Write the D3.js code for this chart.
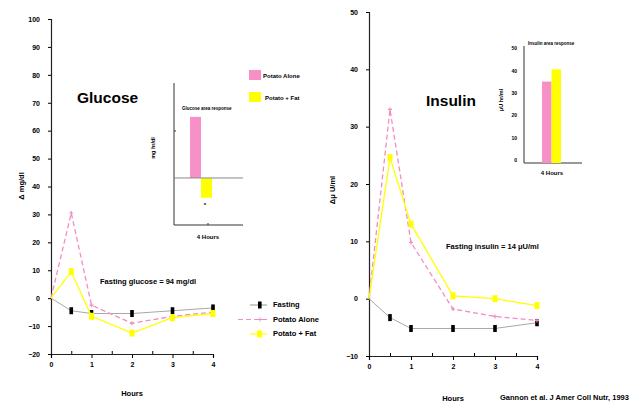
<!DOCTYPE html>
<html>
<head>
<meta charset="utf-8">
<script src="https://d3js.org/d3.v7.min.js"></script>
<style>
  body { margin: 0; background: #fff; }
  text { font-family: "Liberation Sans", Arial, sans-serif; font-weight: bold; fill: #000; }
</style>
</head>
<body>
<div id="chart"></div>
<script>
// Data
const hours = [0, 0.5, 1, 2, 3, 4];
const seriesNames = ["Fasting", "Potato Alone", "Potato + Fat"];

const glucoseFasting = [0, -4.5, -5.5, -5.5, -4.5, -3.5];
const glucosePotato = [0, 30.5, -2.5, -9, -6.5, -5];
const glucosePotatoFat = [0, 9.5, -6.5, -12.5, -7, -5.5];

const insulinFasting = [0, -3.3, -5.2, -5.2, -5.2, -4.2];
const insulinPotato = [0, 33, 9.8, -1.8, -3.1, -3.8];
const insulinPotatoFat = [0, 24.6, 13, 0.5, 0, -1.2];

const glucoseTicks = [-20, -10, 0, 10, 20, 30, 40, 50, 60, 70, 80, 90, 100];
const insulinTicks = [-10, 0, 10, 20, 30, 40, 50];
const hourTicks = [0, 1, 2, 3, 4];

const barNames = ["Potato Alone", "Potato + Fat"];
const glucoseArea = [65, -21];
const insulinArea = [35, 40.5];
const insulinAreaTicks = [0, 10, 20, 30, 40, 50];

const colors = { "Fasting": "#9a9a9a", "Potato Alone": "#f48cc4", "Potato + Fat": "#ffff00" };
const barColors = ["#f890c8", "#ffff00"];

const W = 640, H = 403;
const svg = d3.select("#chart").append("svg")
    .attr("width", W)
    .attr("height", H);

// Draw one time-course panel
function panel(opts) {
    const x = d3.scaleLinear().domain([0, 4]).range([opts.x0, opts.x1]);
    const y = d3.scaleLinear().domain(opts.yDomain).range([opts.y1, opts.y0]);
    const g = svg.append("g");

    // axes
    const yAx = g.append("g")
        .attr("transform", `translate(${opts.x0},0)`)
        .call(d3.axisLeft(y).tickValues(opts.yTicks).tickSize(3).tickPadding(8));
    const xAx = g.append("g")
        .attr("transform", `translate(0,${opts.y1})`)
        .call(d3.axisBottom(x).tickValues(hourTicks).tickSize(4).tickPadding(4).tickFormat(d3.format("d")));
    g.append("g")
        .attr("transform", `translate(0,${opts.y1})`)
        .call(d3.axisBottom(x).tickValues([0.5, 1.5, 2.5, 3.5]).tickSize(-3).tickFormat(""))
        .select(".domain").remove();
    [yAx, xAx].forEach(a => {
        a.select(".domain").attr("stroke", "#222").attr("stroke-width", 1.2);
        a.selectAll("text").style("font-size", "7px").style("font-weight", "bold");
    });

    const line = d3.line().x((d, i) => x(hours[i])).y(d => y(d));

    // series
    const drawSeries = (vals, name) => {
        const c = colors[name];
        g.append("path")
            .datum(vals)
            .attr("fill", "none")
            .attr("stroke", name === "Fasting" ? "#a8a8a8" : c)
            .attr("stroke-width", name === "Fasting" ? 1 : 1.3)
            .attr("stroke-dasharray", name === "Potato Alone" ? "5,3" : null)
            .attr("d", line);
        const pts = g.selectAll(null).data(vals.slice(1)).enter();
        if (name === "Fasting") {
            pts.append("rect")
                .attr("x", (d, i) => x(hours[i + 1]) - 1.8)
                .attr("y", d => y(d) - 3.5)
                .attr("width", 3.6).attr("height", 7)
                .attr("fill", "#000");
        } else if (name === "Potato + Fat") {
            pts.append("rect")
                .attr("x", (d, i) => x(hours[i + 1]) - 2.5)
                .attr("y", d => y(d) - 3.5)
                .attr("width", 5).attr("height", 7)
                .attr("fill", c);
        } else {
            pts.append("path")
                .attr("d", (d, i) => {
                    const px = x(hours[i + 1]), py = y(d);
                    return `M${px - 2},${py}H${px + 2}M${px},${py - 2}V${py + 2}`;
                })
                .attr("stroke", c).attr("stroke-width", 1.2);
        }
    };
    drawSeries(opts.fasting, "Fasting");
    drawSeries(opts.potato, "Potato Alone");
    drawSeries(opts.potatoFat, "Potato + Fat");

    g.append("text")
        .attr("x", (opts.x0 + opts.x1) / 2).attr("y", opts.hoursY)
        .attr("text-anchor", "middle").style("font-size", "7.5px")
        .text("Hours");
    g.append("text")
        .attr("transform", `translate(${opts.labelX},${opts.labelY}) rotate(-90)`)
        .attr("text-anchor", "middle").style("font-size", "7.5px")
        .text(opts.yLabel);
    g.append("text")
        .attr("x", opts.titleX).attr("y", opts.titleY)
        .style("font-size", "15.5px")
        .text(opts.title);
    g.append("text")
        .attr("x", opts.noteX).attr("y", opts.noteY)
        .style("font-size", "7.5px")
        .text(opts.note);
    return { x, y };
}

panel({
    x0: 51, x1: 213, y0: 19, y1: 354,
    yDomain: [-20, 100], yTicks: glucoseTicks,
    fasting: glucoseFasting, potato: glucosePotato, potatoFat: glucosePotatoFat,
    hoursY: 396, labelX: 24, labelY: 186, yLabel: "Δ mg/dl",
    title: "Glucose", titleX: 77, titleY: 103,
    note: "Fasting glucose = 94 mg/dl", noteX: 100, noteY: 284
});

panel({
    x0: 369, x1: 537, y0: 12, y1: 356,
    yDomain: [-10, 50], yTicks: insulinTicks,
    fasting: insulinFasting, potato: insulinPotato, potatoFat: insulinPotatoFat,
    hoursY: 401, labelX: 335, labelY: 190, yLabel: "Δμ U/ml",
    title: "Insulin", titleX: 426, titleY: 106,
    note: "Fasting insulin = 14 μU/ml", noteX: 446, noteY: 249
});

// Glucose inset
(function () {
    const y = d3.scaleLinear().domain([-50, 101]).range([225, 83]);
    const x = d3.scaleBand().domain(barNames).range([190, 212]).padding(0);
    const g = svg.append("g");
    g.append("line").attr("x1", 174).attr("x2", 174).attr("y1", y(101)).attr("y2", y(-50))
        .attr("stroke", "#333");
    g.append("line").attr("x1", 174).attr("x2", 243).attr("y1", y(-50)).attr("y2", y(-50))
        .attr("stroke", "#333");
    g.append("line").attr("x1", 208).attr("x2", 208).attr("y1", y(-50)).attr("y2", y(-50) - 2)
        .attr("stroke", "#333");
    g.append("line").attr("x1", 174).attr("x2", 176).attr("y1", y(50)).attr("y2", y(50))
        .attr("stroke", "#333");
    g.selectAll(null).data(glucoseArea).enter().append("rect")
        .attr("x", (d, i) => x(barNames[i]))
        .attr("width", x.bandwidth())
        .attr("y", d => y(Math.max(0, d)))
        .attr("height", d => Math.abs(y(d) - y(0)))
        .attr("fill", (d, i) => barColors[i]);
    g.append("line").attr("x1", 174).attr("x2", 243).attr("y1", y(0)).attr("y2", y(0))
        .attr("stroke", "#888");
    g.append("text").attr("x", 205).attr("y", 207).attr("text-anchor", "middle")
        .style("font-size", "6px").text("*");
    g.append("text").attr("x", 182).attr("y", 110).style("font-size", "4.5px")
        .text("Glucose area response");
    g.append("text").attr("transform", "translate(155,148) rotate(-90)")
        .attr("text-anchor", "middle").style("font-size", "5.5px").text("mg hr/dl");
    g.append("text").attr("x", 208).attr("y", 239).attr("text-anchor", "middle")
        .style("font-size", "6px").text("4 Hours");

    // legend
    barNames.forEach((n, i) => {
        g.append("rect").attr("x", 249).attr("y", 70 + i * 22).attr("width", 12).attr("height", 10)
            .attr("fill", barColors[i]);
        g.append("text").attr("x", 263 + i * 2).attr("y", 78 + i * 22).style("font-size", "6px").text(n);
    });
})();

// Insulin inset
(function () {
    const y = d3.scaleLinear().domain([0, 50]).range([160, 48]);
    const x = d3.scaleBand().domain(barNames).range([542, 561]).padding(0);
    const g = svg.append("g");
    const ax = g.append("g").attr("transform", "translate(524,0)")
        .call(d3.axisLeft(y).tickValues(insulinAreaTicks).tickSize(0).tickPadding(7));
    ax.select(".domain").remove();
    ax.selectAll("text").style("font-size", "5px");
    g.append("line").attr("x1", 524).attr("x2", 524).attr("y1", 46).attr("y2", 163).attr("stroke", "#333");
    g.append("line").attr("x1", 524).attr("x2", 582).attr("y1", 163).attr("y2", 163).attr("stroke", "#333");
    g.selectAll(null).data(insulinArea).enter().append("rect")
        .attr("x", (d, i) => x(barNames[i]))
        .attr("width", x.bandwidth())
        .attr("y", d => y(d))
        .attr("height", d => 163 - y(d))
        .attr("fill", (d, i) => barColors[i]);
    g.append("text").attr("x", 528).attr("y", 45).style("font-size", "4.5px")
        .text("Insulin area response");
    g.append("text").attr("transform", "translate(503,100) rotate(-90)")
        .attr("text-anchor", "middle").style("font-size", "5.5px").text("μU hr/ml");
    g.append("text").attr("x", 552).attr("y", 175).attr("text-anchor", "middle")
        .style("font-size", "6px").text("4 Hours");
})();

// Bottom-left legend
const lg = svg.append("g");
seriesNames.forEach((n, i) => {
    const yy = 305 + i * 14.5;
    const x1 = n === "Potato Alone" ? 238 : 250;
    lg.append("line").attr("x1", x1).attr("x2", 267).attr("y1", yy).attr("y2", yy)
        .attr("stroke", n === "Fasting" ? "#a8a8a8" : colors[n])
        .attr("stroke-width", 1.2)
        .attr("stroke-dasharray", n === "Potato Alone" ? "5,3" : null);
    if (n === "Fasting") {
        lg.append("rect").attr("x", 258).attr("y", yy - 3.5).attr("width", 3.6).attr("height", 7).attr("fill", "#000");
    } else if (n === "Potato + Fat") {
        lg.append("rect").attr("x", 257).attr("y", yy - 3.5).attr("width", 5).attr("height", 7).attr("fill", colors[n]);
    } else {
        lg.append("path").attr("d", `M258,${yy}H262M260,${yy - 2}V${yy + 2}`).attr("stroke", colors[n]);
    }
    lg.append("text").attr("x", 273).attr("y", yy + 2).style("font-size", "7.5px").text(n);
});

svg.append("text").attr("x", 500).attr("y", 400).style("font-size", "7.5px")
    .text("Gannon et al. J Amer Coll Nutr, 1993");
</script>
</body>
</html>
